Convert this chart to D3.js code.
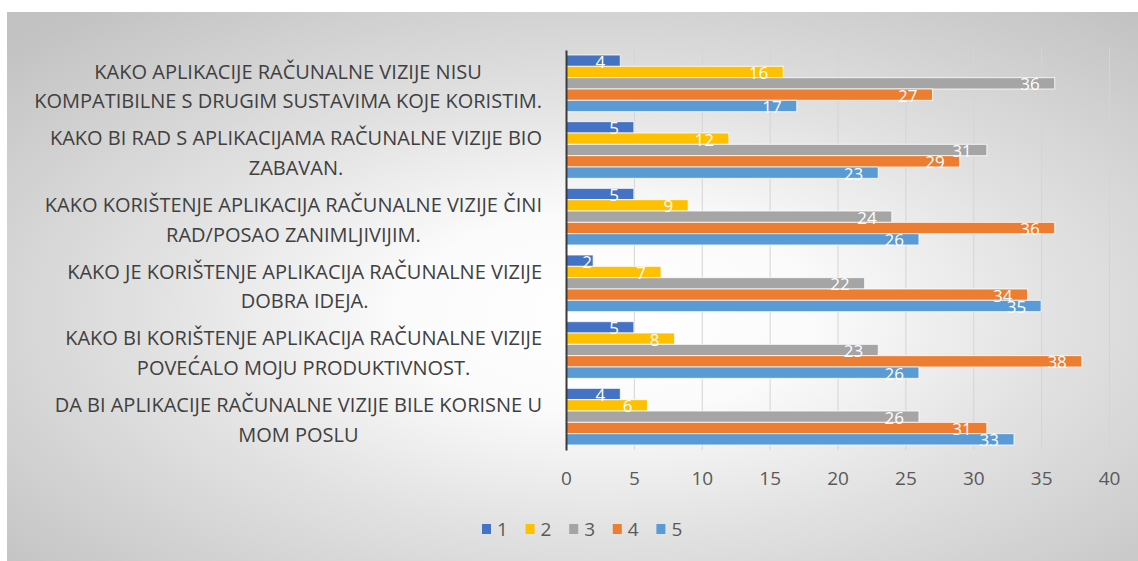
<!DOCTYPE html>
<html>
<head>
<meta charset="utf-8">
<script src="https://cdn.jsdelivr.net/npm/d3@7"></script>
<style>
body { margin: 0; background: #fff; }
text { font-family: "Open Sans", "Liberation Sans", sans-serif; }
</style>
</head>
<body>
<div id="chart"></div>
<script>
// category labels, already wrapped the way the chart shows them
var categories = [
  ["KAKO APLIKACIJE RAČUNALNE VIZIJE NISU", "KOMPATIBILNE S DRUGIM SUSTAVIMA KOJE KORISTIM."],
  ["KAKO BI RAD S APLIKACIJAMA RAČUNALNE VIZIJE BIO", "ZABAVAN."],
  ["KAKO KORIŠTENJE APLIKACIJA RAČUNALNE VIZIJE ČINI", "RAD/POSAO ZANIMLJIVIJIM."],
  ["KAKO JE KORIŠTENJE APLIKACIJA RAČUNALNE VIZIJE", "DOBRA IDEJA."],
  ["KAKO BI KORIŠTENJE APLIKACIJA RAČUNALNE VIZIJE", "POVEĆALO MOJU PRODUKTIVNOST."],
  ["DA BI APLIKACIJE RAČUNALNE VIZIJE BILE KORISNE U", "MOM POSLU"]
];
var seriesNames = ["1", "2", "3", "4", "5"];
var s1 = [4, 5, 5, 2, 5, 4];
var s2 = [16, 12, 9, 7, 8, 6];
var s3 = [36, 31, 24, 22, 23, 26];
var s4 = [27, 29, 36, 34, 38, 31];
var s5 = [17, 23, 26, 35, 26, 33];
var xTicks = [0, 5, 10, 15, 20, 25, 30, 35, 40];
var colors = ["#4472C4", "#FFC000", "#A5A5A5", "#ED7D31", "#5B9BD5"];

var allSeries = [s1, s2, s3, s4, s5];
var W = 1138, H = 561;
var plot = {left: 566, right: 1109, top: 50, bottom: 450};

var svg = d3.select("#chart").append("svg")
    .attr("width", W)
    .attr("height", H);

var defs = svg.append("defs");
var grad = defs.append("radialGradient").attr("id", "bg")
    .attr("cx", "53%").attr("cy", "55%").attr("r", "72%");
grad.append("stop").attr("offset", "0%").attr("stop-color", "#ffffff");
grad.append("stop").attr("offset", "25%").attr("stop-color", "#fbfbfb");
grad.append("stop").attr("offset", "55%").attr("stop-color", "#e2e2e2");
grad.append("stop").attr("offset", "100%").attr("stop-color", "#c2c2c2");

svg.append("rect")
    .attr("x", 7).attr("y", 12)
    .attr("width", W - 7).attr("height", H - 12)
    .attr("fill", "url(#bg)");

var x = d3.scaleLinear().domain([0, 40]).range([plot.left, plot.right]);

var idx = d3.range(categories.length);
var y = d3.scaleBand().domain(idx).range([plot.top, plot.bottom])
    .paddingInner(0.15).paddingOuter(0.075);
var ySub = d3.scaleBand().domain(d3.range(seriesNames.length)).range([0, y.bandwidth()]);

// gridlines + tick labels
var gx = svg.append("g")
    .attr("transform", "translate(0," + plot.bottom + ")")
    .call(d3.axisBottom(x).tickValues(xTicks).tickSize(-(plot.bottom - plot.top) - 3).tickPadding(22));
gx.select(".domain").remove();
gx.selectAll(".tick line").attr("stroke", "#d4d4d4");
gx.selectAll(".tick text")
    .attr("fill", "#595959")
    .style("font-size", "19px");

// bars
var groups = svg.append("g").selectAll("g")
    .data(idx)
    .enter().append("g")
    .attr("transform", function(i) { return "translate(0," + y(i) + ")"; });

groups.selectAll("rect")
    .data(function(i) { return allSeries.map(function(s, k) { return {k: k, v: s[i]}; }); })
    .enter().append("rect")
    .attr("x", x(0))
    .attr("y", function(d) { return ySub(d.k); })
    .attr("width", function(d) { return x(d.v) - x(0); })
    .attr("height", ySub.bandwidth())
    .attr("fill", function(d) { return colors[d.k]; })
    .attr("stroke", "#ffffff")
    .attr("stroke-opacity", 0.8)
    .attr("stroke-width", 1);

groups.selectAll("text")
    .data(function(i) { return allSeries.map(function(s, k) { return {k: k, v: s[i]}; }); })
    .enter().append("text")
    .attr("x", function(d) { return Math.max(x(d.v) - 15, x(0) + 26); })
    .attr("y", function(d) { return ySub(d.k) + ySub.bandwidth() / 2 + 1; })
    .attr("dy", "0.36em")
    .attr("text-anchor", "end")
    .attr("fill", "#ffffff")
    .style("font-size", "17px")
    .text(function(d) { return d.v; });

// vertical axis line
var gy = svg.append("g")
    .attr("transform", "translate(" + plot.left + ",0)")
    .call(d3.axisLeft(y).tickSize(0).tickFormat(""));
gy.select(".domain").attr("stroke", "#3a3a3a").attr("stroke-width", 2);

// category labels: each block right-aligned to the axis, lines centred in the block
var labG = svg.append("g");
idx.forEach(function(i) {
  var cy = y(i) + y.bandwidth() / 2 + 3;
  var t = labG.append("g");
  var lines = categories[i].map(function(line, j) {
    return t.append("text")
      .attr("y", cy + (j - 0.5) * 29.5)
      .attr("dy", "0.36em")
      .attr("text-anchor", "middle")
      .attr("fill", "#404040")
      .style("font-size", "20px")
      .text(line);
  });
  var maxW = d3.max(lines, function(l) { return l.node().getComputedTextLength(); });
  lines.forEach(function(l) { l.attr("x", 542 - maxW / 2); });
});

// legend
var leg = svg.append("g").attr("transform", "translate(482,529)");
var items = leg.selectAll("g").data(seriesNames).enter().append("g")
    .attr("transform", function(d, i) { return "translate(" + (i * 43.6) + ",0)"; });
items.append("rect")
    .attr("x", 0).attr("y", -5)
    .attr("width", 9).attr("height", 10)
    .attr("fill", function(d, i) { return colors[i]; });
items.append("text")
    .attr("x", 15).attr("y", 0)
    .attr("dy", "0.36em")
    .attr("fill", "#595959")
    .style("font-size", "19px")
    .text(function(d) { return d; });
</script>
</body>
</html>
